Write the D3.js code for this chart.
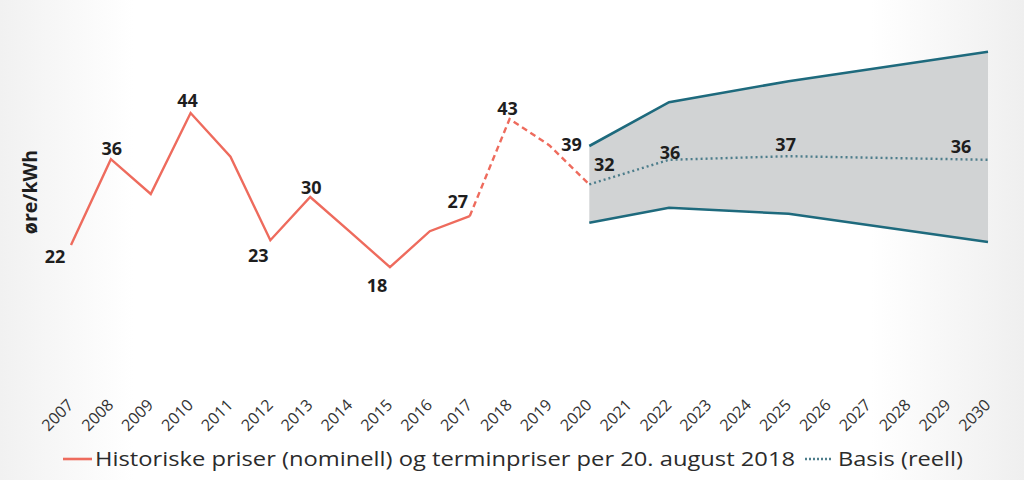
<!DOCTYPE html>
<html>
<head>
<meta charset="utf-8">
<script src="https://cdn.jsdelivr.net/npm/d3@7"></script>
<style>
  html, body { margin: 0; padding: 0; background: #fff; }
  svg { display: block; }
</style>
</head>
<body>
<svg id="chart" width="1024" height="480"></svg>
<script>
// ---- data ----
const years = [2007,2008,2009,2010,2011,2012,2013,2014,2015,2016,2017,2018,2019,2020,2021,2022,2023,2024,2025,2026,2027,2028,2029,2030];
const histYears = [2007,2008,2009,2010,2011,2012,2013,2014,2015,2016,2017];
const histValues = [22,36.3,30.5,44,36.7,22.8,30,24.2,18.3,24.3,26.8];
const termYears = [2017,2018,2019,2020];
const termValues = [26.8,43,38.6,32.1];
const bandYears = [2020,2022,2025,2030];
const bandUpper = [38.5,45.8,49.3,54.2];
const bandLower = [25.7,28.2,27.2,22.5];
const basisValues = [32.1,36.2,36.8,36.2];
const labelYears = [2007,2008,2010,2012,2013,2015,2017,2018,2019,2020,2022,2025,2030];
const labelValues = [22,36.3,44,22.8,30,18.3,26.8,43,38.6,32.1,36.2,36.8,36.2];
const labelTexts = ["22","36","44","23","30","18","27","43","39","32","36","37","36"];
const yAxisTitle = "øre/kWh";
const legendTexts = ["Historiske priser (nominell) og terminpriser per 20. august 2018", "Basis (reell)"];

// ---- drawing ----
const svg = d3.select("#chart");
const W = 1024, H = 480;

const defs = svg.append("defs");
const g1 = defs.append("linearGradient").attr("id","bg").attr("x1","0").attr("x2","1").attr("y1","0").attr("y2","0");
g1.append("stop").attr("offset","0").attr("stop-color","#f1f1f1");
g1.append("stop").attr("offset","0.13").attr("stop-color","#ffffff");
g1.append("stop").attr("offset","0.85").attr("stop-color","#ffffff");
g1.append("stop").attr("offset","1").attr("stop-color","#efefef");
svg.append("rect").attr("width",W).attr("height",H).attr("fill","url(#bg)");

const x = d3.scaleLinear().domain([2007,2030]).range([71,988]);
const y = d3.scaleLinear().domain([0,50]).range([377,77]);

const RED = "#ee6b5d", TEAL = "#1e6a7d", BASIS = "#4d7d8b";

// band area
const area = d3.area()
  .x((d,i) => x(bandYears[i]))
  .y0((d,i) => y(bandLower[i]))
  .y1((d,i) => y(bandUpper[i]));
svg.append("path").datum(bandYears).attr("d", area).attr("fill","#d1d3d4");

const line = d3.line().x(d => x(d[0])).y(d => y(d[1]));
svg.append("path").datum(bandYears.map((yr,i)=>[yr,bandUpper[i]])).attr("d",line)
  .attr("fill","none").attr("stroke",TEAL).attr("stroke-width",2.6);
svg.append("path").datum(bandYears.map((yr,i)=>[yr,bandLower[i]])).attr("d",line)
  .attr("fill","none").attr("stroke",TEAL).attr("stroke-width",2.6);

// basis dotted
svg.append("path").datum(bandYears.map((yr,i)=>[yr,basisValues[i]])).attr("d",line)
  .attr("fill","none").attr("stroke",BASIS).attr("stroke-width",2.4).attr("stroke-dasharray","2,3");

// historical
svg.append("path").datum(histYears.map((yr,i)=>[yr,histValues[i]])).attr("d",line)
  .attr("fill","none").attr("stroke",RED).attr("stroke-width",2.4).attr("stroke-linejoin","miter");
svg.append("path").datum(termYears.map((yr,i)=>[yr,termValues[i]])).attr("d",line)
  .attr("fill","none").attr("stroke",RED).attr("stroke-width",2.4).attr("stroke-dasharray","6,4");

// data labels: offsets [dx, dy] relative to point
const labelOffsets = [[-16,18],[1,-4],[-3,-6],[-12,22],[1,-3],[-13,25],[-12,-8],[-2,-4],[22,6],[15,-13],[1,-1],[-3,-5],[-27,-7]];
svg.append("g").selectAll("text").data(labelTexts).join("text")
  .attr("x",(d,i)=>x(labelYears[i])+labelOffsets[i][0])
  .attr("y",(d,i)=>y(labelValues[i])+labelOffsets[i][1])
  .attr("text-anchor","middle")
  .attr("font-family","'Open Sans', sans-serif")
  .attr("font-weight","bold")
  .attr("font-size",18)
  .attr("fill","#1e1e1e")
  .text(d=>d);

// y axis title
svg.append("text")
  .attr("transform","translate(37,192) rotate(-90)")
  .attr("text-anchor","middle")
  .attr("font-family","'Open Sans', sans-serif")
  .attr("font-weight","bold")
  .attr("font-size",19.5)
  .attr("fill","#1e1e1e")
  .text(yAxisTitle);

// x axis labels
const xAxis = d3.axisBottom(x).tickValues(years).tickFormat(d3.format("d")).tickSize(0);
const ax = svg.append("g").attr("transform","translate(0,400)").call(xAxis);
ax.select(".domain").remove();
ax.selectAll("text")
  .attr("font-family","'Open Sans', sans-serif")
  .attr("font-size",16)
  .attr("fill","#333")
  .attr("text-anchor","end")
  .attr("dy",0)
  .attr("y",0)
  .attr("transform","translate(3,6) rotate(-45)");

// legend
const lg = svg.append("g");
lg.append("line").attr("x1",63).attr("x2",92).attr("y1",459).attr("y2",459).attr("stroke",RED).attr("stroke-width",2.6);
lg.append("text").attr("x",95).attr("y",466)
  .attr("font-family","'Open Sans', sans-serif").attr("font-size",19.5).attr("fill","#2b2b2b")
  .attr("textLength",700).attr("lengthAdjust","spacingAndGlyphs")
  .text(legendTexts[0]);
lg.append("line").attr("x1",805).attr("x2",831).attr("y1",459).attr("y2",459).attr("stroke",BASIS).attr("stroke-width",2.4).attr("stroke-dasharray","2,2");
lg.append("text").attr("x",838).attr("y",466)
  .attr("font-family","'Open Sans', sans-serif").attr("font-size",19.5).attr("fill","#2b2b2b")
  .attr("textLength",125).attr("lengthAdjust","spacingAndGlyphs")
  .text(legendTexts[1]);
</script>
</body>
</html>
